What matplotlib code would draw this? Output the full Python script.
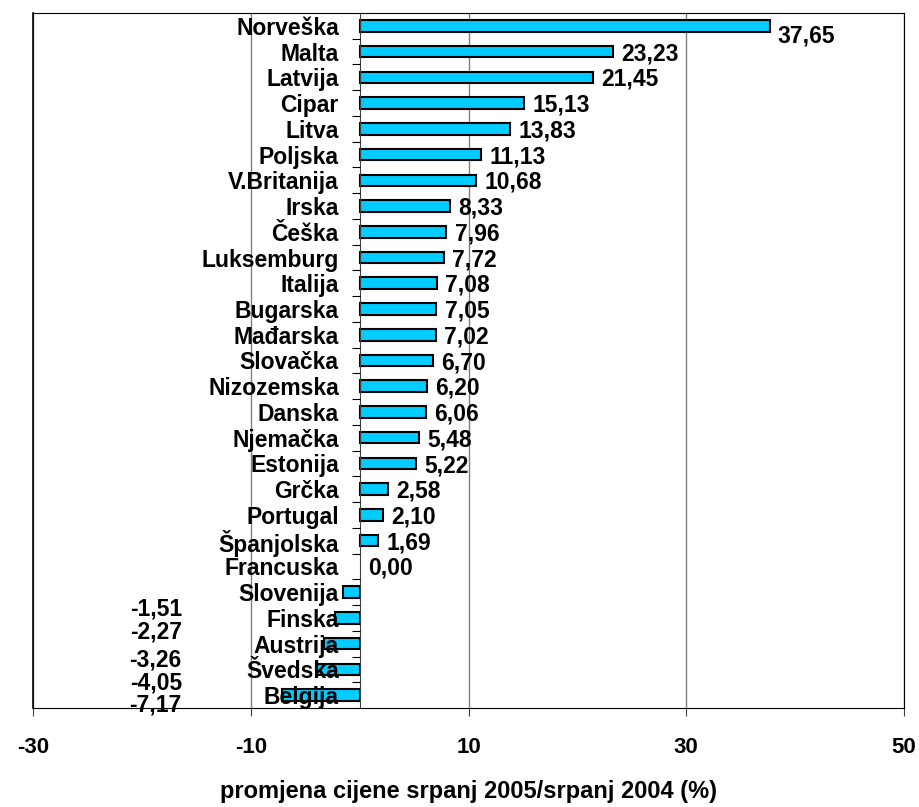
import numpy as np
import matplotlib.pyplot as plt

plt.rcParams['font.family'] = ['Liberation Sans', 'DejaVu Sans']

countries = ['Norveška', 'Malta', 'Latvija', 'Cipar', 'Litva', 'Poljska', 'V.Britanija',
             'Irska', 'Češka', 'Luksemburg', 'Italija', 'Bugarska', 'Mađarska', 'Slovačka',
             'Nizozemska', 'Danska', 'Njemačka', 'Estonija', 'Grčka', 'Portugal',
             'Španjolska', 'Francuska', 'Slovenija', 'Finska', 'Austrija', 'Švedska', 'Belgija']
values = [37.65, 23.23, 21.45, 15.13, 13.83, 11.13, 10.68, 8.33, 7.96, 7.72, 7.08, 7.05,
          7.02, 6.70, 6.20, 6.06, 5.48, 5.22, 2.58, 2.10, 1.69, 0.00, -1.51, -2.27,
          -3.26, -4.05, -7.17]
xticks = [-30, -10, 10, 30, 50]

# label nudges (points, downward) - the original had hand-moved labels
pos_dy = [7] + [1.5] * 21
neg_dy = [12, 10, 11.5, 10, 7]

fig = plt.figure(figsize=(9.2, 8.07), dpi=100)
ax = fig.add_axes([0.0359, 0.1227, 0.9467, 0.8612])

y = np.arange(len(countries))
lw = [1.5 if v != 0 else 0 for v in values]
ax.barh(y, values, height=0.45, color='#00CCFF', edgecolor='black', linewidth=lw, zorder=2)

ax.set_xlim(-30, 50)
ax.set_ylim(len(countries) - 0.5, -0.5)

ax.set_xticks(xticks)
ax.set_xticklabels([str(t) for t in xticks], fontsize=16, fontweight='bold')
ax.tick_params(axis='x', direction='out', length=6, pad=15, color='#404040')
ax.xaxis.grid(True, color='#808080', linewidth=1)
ax.set_axisbelow(True)
ax.yaxis.set_zorder(4)  # country names over the negative bars

ax.spines['left'].set_position(('data', 0))
ax.spines['left'].set_color('#404040')
for s in ['top', 'right', 'bottom']:
    ax.spines[s].set_color('black')
ax.axvline(-30, color='black', linewidth=1.2, clip_on=False)

ax.set_yticks(np.arange(0.5, len(countries) - 1, 1))
ax.set_yticklabels([])
ax.tick_params(axis='y', which='major', direction='out', length=6, color='black')
ax.set_yticks(y, minor=True)
ax.set_yticklabels(countries, minor=True, fontsize=16.5, fontweight='bold')
ax.tick_params(axis='y', which='minor', length=0, pad=15)

pos = [v for v in values if v >= 0]
for i, v in enumerate(pos):
    ax.annotate(f'{v:.2f}'.replace('.', ','), (v, i), xytext=(6, -pos_dy[i]),
                textcoords='offset points', ha='left', va='center',
                fontsize=16.5, fontweight='bold')
neg = [v for v in values if v < 0]
for j, v in enumerate(neg):
    i = len(pos) + j
    ax.annotate(f'{v:.2f}'.replace('.', ','), (0, i), xytext=(-128, -neg_dy[j]),
                textcoords='offset points', ha='right', va='center',
                fontsize=16.5, fontweight='bold')

ax.set_xlabel('promjena cijene srpanj 2005/srpanj 2004 (%)', fontsize=17,
              fontweight='bold', labelpad=16)

fig.savefig('out.png', dpi=100)
